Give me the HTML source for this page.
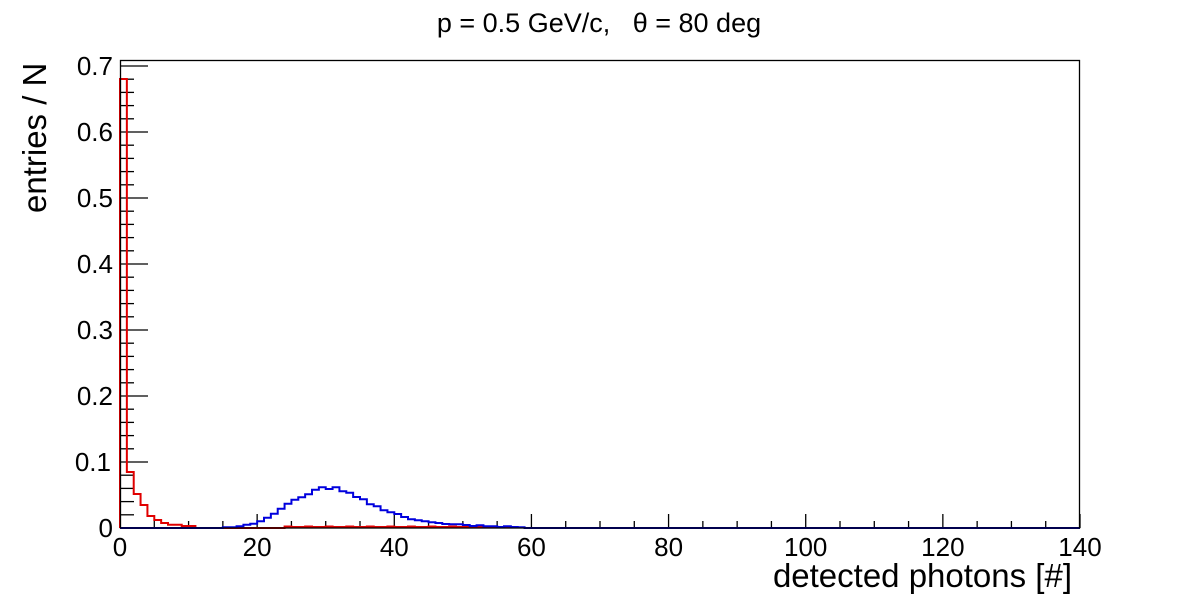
<!DOCTYPE html>
<html><head><style>body{margin:0;background:#fff}svg{display:block}text{font-family:"Liberation Sans",sans-serif}</style></head>
<body>
<svg id="s" width="1200" height="600" xmlns="http://www.w3.org/2000/svg">
<rect x="0" y="0" width="1200" height="600" fill="#fff"/>
<text x="599" y="32" font-size="27" text-anchor="middle">p = 0.5 GeV/c,&#160;&#160; θ = 80 deg</text>
<g id="ticks" stroke="#000" stroke-width="1.3"></g>
<path id="red" fill="none" stroke="#e00000" stroke-width="2"/>
<path id="blue" fill="none" stroke="#0000dd" stroke-width="2"/>
<rect x="120.5" y="60.5" width="959" height="467.5" fill="none" stroke="#000" stroke-width="1.3"/>
<g id="labels" font-size="26"></g>
<text x="1072" y="587" font-size="33" text-anchor="end">detected photons [#]</text>
<text transform="translate(46,213) rotate(-90)" font-size="33" text-anchor="start">entries / N</text>
</svg>
<script>
var X0=120,PX=960/140,Y0=528,PY=660;
function X(v){return X0+v*PX}function Y(v){return Y0-v*PY}
var t=document.getElementById('ticks'),l=document.getElementById('labels'),h='',lh='';
for(var v=0;v<=140;v+=5){var L=v%20==0?14:7;h+='<line x1="'+X(v)+'" y1="528" x2="'+X(v)+'" y2="'+(528-L)+'"/>';}
for(var v=0;v<=140;v+=20){lh+='<text x="'+X(v)+'" y="556" text-anchor="middle">'+v+'</text>';}
for(var i=0;i<=35;i++){var v=i*0.02,L=i%5==0?28:14;h+='<line x1="120" y1="'+Y(v)+'" x2="'+(120+L)+'" y2="'+Y(v)+'"/>';}
var yl=['0','0.1','0.2','0.3','0.4','0.5','0.6','0.7'];
for(var i=0;i<8;i++){lh+='<text x="'+(i==1?111:113)+'" y="'+(Y(i*0.1)+9)+'" text-anchor="end">'+yl[i]+'</text>';}
t.innerHTML=h;l.innerHTML=lh;
var bluePix={15:527.3,16:527.3,17:526.3,18:524.7,19:523.7,20:521.3,21:517.7,22:513.7,23:508.7,24:503.7,25:499.7,26:497.3,27:494.3,28:489.7,29:487.3,30:489,31:487.3,32:491.3,33:492.7,34:497,35:499.3,36:504.3,37:506.3,38:510.3,39:512.3,40:514,41:517,42:519.3,43:520.3,44:521.3,45:522.3,46:523,47:524,48:524.3,49:524.3,50:525,51:526,52:525.3,53:526.3,54:526.3,55:527,56:526.3,57:527,58:527.3};
var redPix={0:79,1:472,2:494,3:505,4:516,5:520,6:523,7:524.7,8:524.7,9:526,10:526};
for(var i=24;i<57;i++)redPix[i]=(i%3==0)?526.5:527;
function path(m,n){var d='M'+X(0)+' 528';for(var i=0;i<n;i++){var y=m[i]!==undefined?m[i]:528;d+=' L'+X(i)+' '+y+' L'+X(i+1)+' '+y;}d+=' L'+X(n)+' 528';return d;}
document.getElementById('blue').setAttribute('d',path(bluePix,140));
document.getElementById('red').setAttribute('d',path(redPix,57));
</script>
</body></html>
